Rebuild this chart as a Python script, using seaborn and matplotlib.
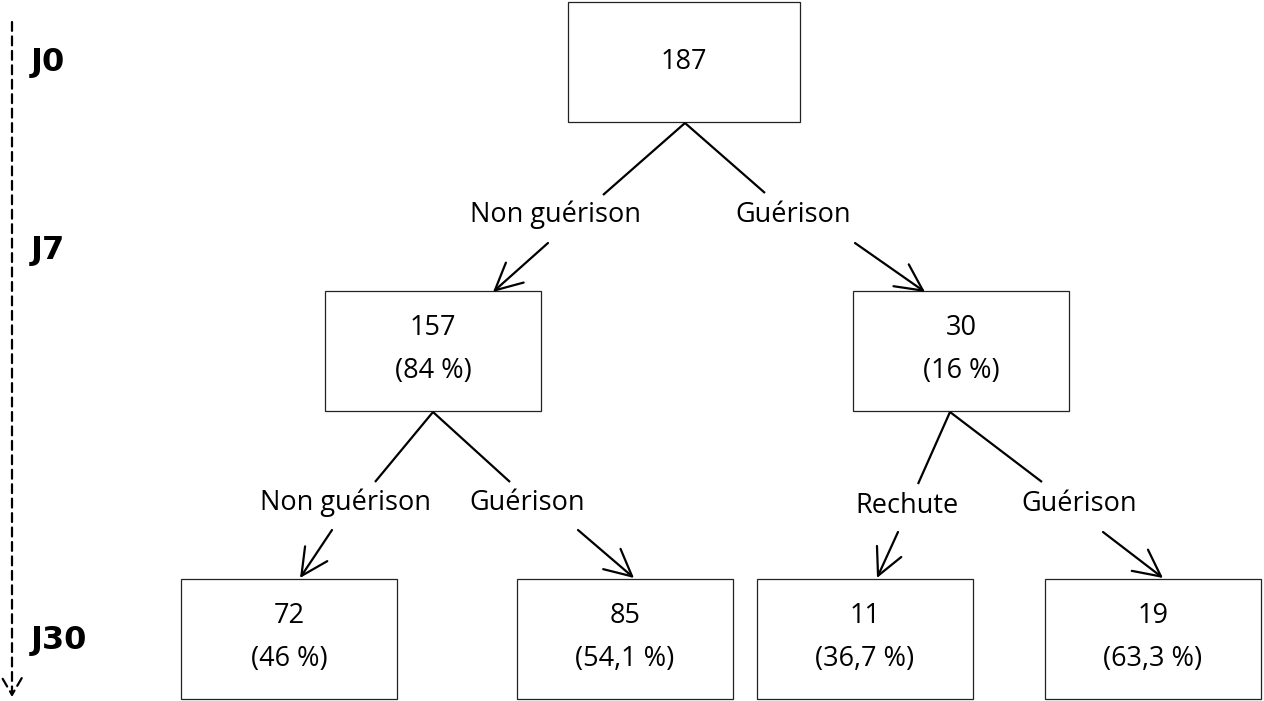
import matplotlib
matplotlib.use('Agg')
import matplotlib.pyplot as plt
import seaborn as sns
from matplotlib.patches import Rectangle, FancyArrowPatch

# Node data
node_counts = ['187', '157', '30', '72', '85', '11', '19']
node_pcts = ['', '(84 %)', '(16 %)', '(46 %)', '(54,1 %)', '(36,7 %)', '(63,3 %)']
edge_labels = ['Non guérison', 'Guérison', 'Non guérison', 'Guérison', 'Rechute', 'Guérison']
day_labels = ['J0', 'J7', 'J30']

# Layout (pixel coords, y down)
box_xy = [(568, 2), (325, 291), (853, 291), (181, 579), (517, 579), (757, 579), (1045, 579)]
box_w, box_h = 232, 120
box_w_small = 216
# edges: (start, line_end, label_pos, arrow_start, arrow_end)
edges = [
    ((685, 123), (603, 195), (556, 215), (548, 243), (493, 292)),
    ((685, 123), (765, 193), (793, 215), (855, 243), (925, 292)),
    ((433, 412), (375, 482), (345, 503), (332, 530), (300, 578)),
    ((433, 412), (510, 482), (527, 503), (578, 530), (634, 578)),
    ((950, 412), (918, 484), (907, 506), (898, 532), (877, 578)),
    ((950, 412), (1042, 482), (1079, 504), (1103, 532), (1163, 578)),
]
day_y = [62, 250, 640]

sns.set_theme(style='white')
plt.rcParams['font.family'] = ['Open Sans', 'DejaVu Sans']
plt.rcParams['text.color'] = 'black'

fig = plt.figure(figsize=(12.64, 7.01), dpi=100)
ax = fig.add_axes([0, 0, 1, 1])
ax.set_xlim(0, 1264)
ax.set_ylim(701, 0)
ax.axis('off')

fs = 19.5
for i, (x, y) in enumerate(box_xy):
    w = box_w if i == 0 else box_w_small
    ax.add_patch(Rectangle((x, y), w, box_h, fill=False, edgecolor='#222222', lw=0.9))
    cx = x + w / 2
    if node_pcts[i]:
        ax.text(cx, y + 37, node_counts[i], ha='center', va='center', fontsize=fs)
        ax.text(cx, y + 80, node_pcts[i], ha='center', va='center', fontsize=fs)
    else:
        ax.text(cx, y + 60, node_counts[i], ha='center', va='center', fontsize=fs)

for lab, (s, le, lp, a0, a1) in zip(edge_labels, edges):
    ax.plot([s[0], le[0]], [s[1], le[1]], color='black', lw=1.6, solid_capstyle='butt')
    ax.text(lp[0], lp[1], lab, ha='center', va='center', fontsize=fs)
    ax.add_patch(FancyArrowPatch(a0, a1, arrowstyle='->,head_length=0.8,head_width=0.4',
                                 mutation_scale=24, color='black', lw=1.6, shrinkA=0, shrinkB=0))

# time axis
ax.add_patch(FancyArrowPatch((12, 22), (12, 697), arrowstyle='->,head_length=0.6,head_width=0.35',
                             mutation_scale=20, color='black', lw=1.6, linestyle=(0, (4, 2.5)),
                             shrinkA=0, shrinkB=0))
for lab, y in zip(day_labels, day_y):
    ax.text(31, y, lab, ha='left', va='center', fontsize=23, fontweight='bold', family='DejaVu Sans')

fig.savefig('out.png', dpi=100)
